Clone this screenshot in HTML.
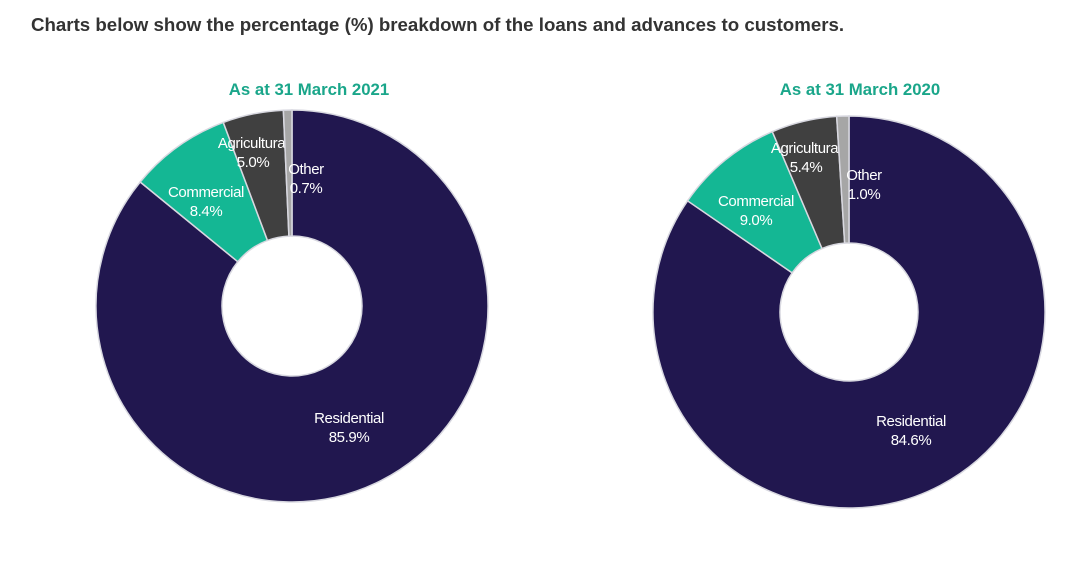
<!DOCTYPE html>
<html><head><meta charset="utf-8"><style>
body{margin:0;background:#fff;width:1070px;height:579px;overflow:hidden;font-family:"Liberation Sans",sans-serif}
#hdr{position:absolute;left:31px;top:14px;font-size:18.7px;font-weight:bold;color:#333;white-space:nowrap}
</style></head><body>
<div id="hdr">Charts below show the percentage (%) breakdown of the loans and advances to customers.</div>
<svg id="svg" width="1070" height="579" style="position:absolute;left:0;top:0"></svg>
<script>
const categories=["Residential","Commercial","Agricultural","Other"];
const values2021=[85.9,8.4,5.0,0.7];
const values2020=[84.6,9.0,5.4,1.0];
const titles=["As at 31 March 2021","As at 31 March 2020"];
const colors=["#21174f","#14b794","#404040","#a6a6a6"];
const charts=[
 {vals:values2021,title:titles[0],cx:292,cy:306,r:196,ri:70,tx:309,ty:95,
  lab:[[349,423],[206,197],[253,148],[306,174]]},
 {vals:values2020,title:titles[1],cx:849,cy:312,r:196,ri:69,tx:860,ty:95,
  lab:[[911,426],[756,206],[806,153],[864,180]]}
];
const NS="http://www.w3.org/2000/svg";
const svg=document.getElementById('svg');
function mk(t,a){const e=document.createElementNS(NS,t);for(const k in a)e.setAttribute(k,a[k]);svg.appendChild(e);return e;}
function pt(cx,cy,r,f){const a=f*2*Math.PI-Math.PI/2;return [cx+r*Math.cos(a),cy+r*Math.sin(a)];}
charts.forEach((c,ci)=>{
 const tot=c.vals.reduce((a,b)=>a+b,0);let acc=0;
 c.vals.forEach((v,i)=>{
  const f0=acc/tot,f1=(acc+v)/tot;acc+=v;
  const [x0,y0]=pt(c.cx,c.cy,c.r,f0),[x1,y1]=pt(c.cx,c.cy,c.r,f1);
  const [x2,y2]=pt(c.cx,c.cy,c.ri,f1),[x3,y3]=pt(c.cx,c.cy,c.ri,f0);
  const lg=(f1-f0)>0.5?1:0;
  const p=mk('path',{d:`M${x0},${y0}A${c.r},${c.r} 0 ${lg} 1 ${x1},${y1}L${x2},${y2}A${c.ri},${c.ri} 0 ${lg} 0 ${x3},${y3}Z`,fill:colors[i],stroke:'#d8d8e0','stroke-width':1.5});
  
  
  const [lx,ly]=c.lab[i];
  const t=mk('text',{x:lx,y:ly,'text-anchor':'middle',fill:'#fff','font-size':15,'letter-spacing':'-0.4'});
  
  
  t.innerHTML=`<tspan x="${lx}">${categories[i]}</tspan><tspan x="${lx}" dy="19">${v.toFixed(1)}%</tspan>`;
 });
 const tt=mk('text',{x:c.tx,y:c.ty,'text-anchor':'middle',fill:'#1aa68a','font-size':16.8,'font-weight':'bold'});
 
 
 tt.textContent=c.title;
});
</script>
</body></html>
